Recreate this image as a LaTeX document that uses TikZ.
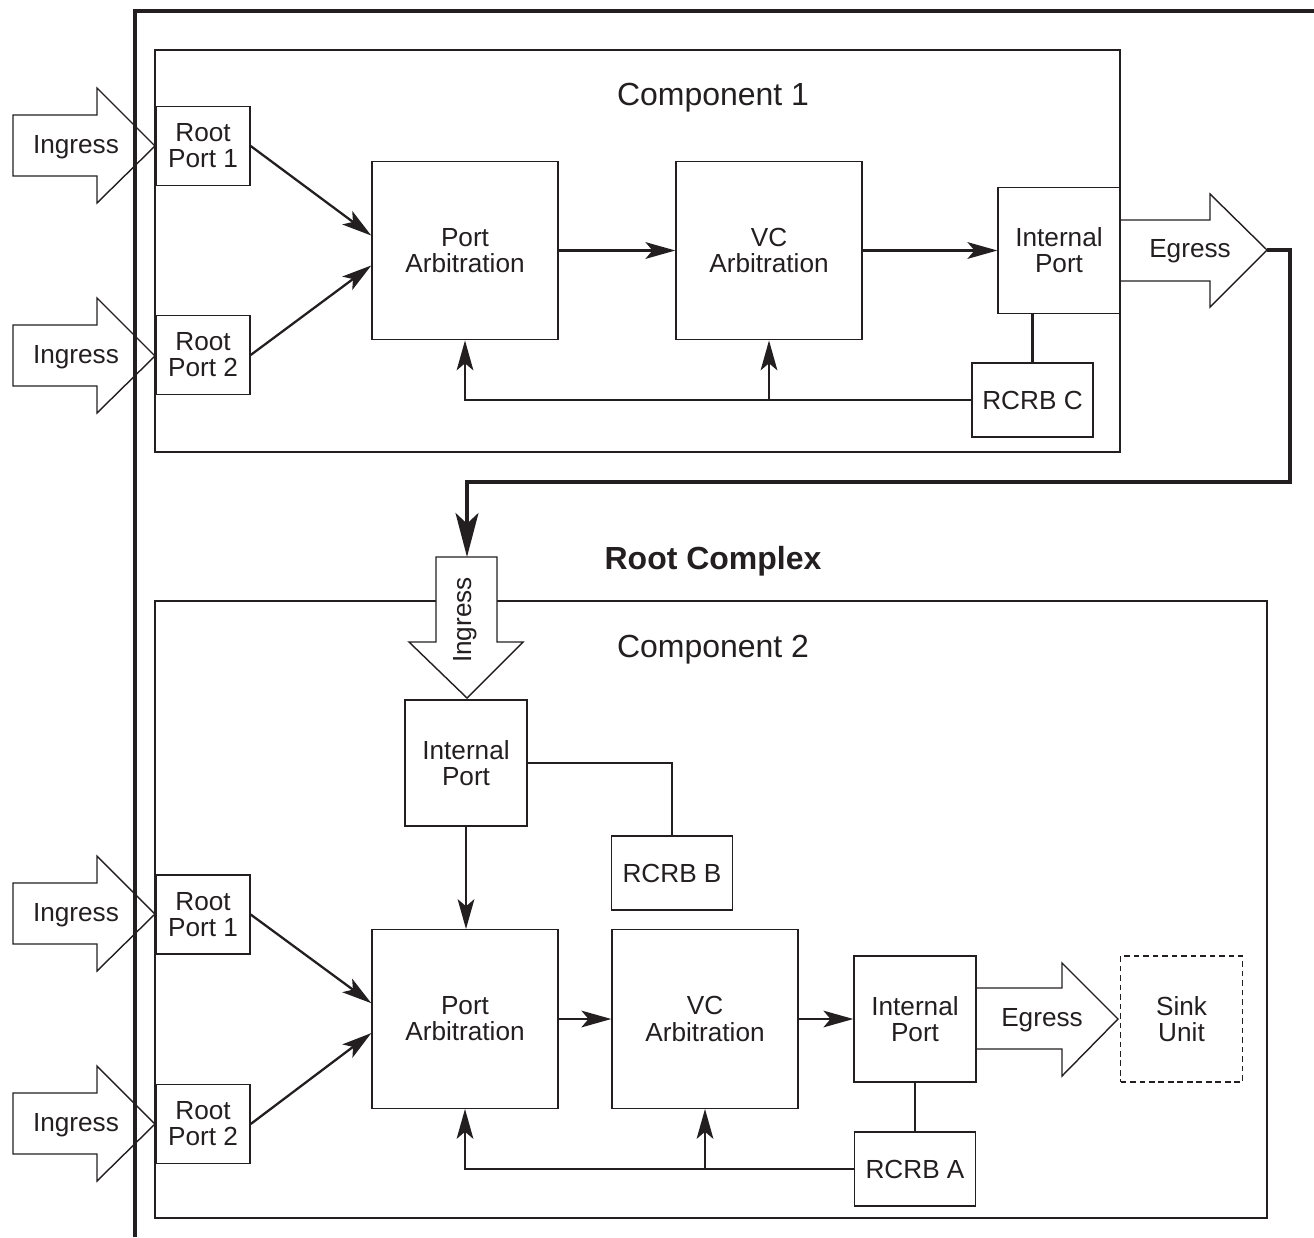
\documentclass[tikz,border=0pt]{standalone}
\usepackage{fontspec}
\setmainfont{Liberation Sans}
\usetikzlibrary{arrows.meta}
\definecolor{ink}{RGB}{35,31,32}

\begin{document}
\begin{tikzpicture}[x=0.02cm, y=-0.02cm, ink,
  lbl/.style={font=\fontsize{14.9pt}{14.9pt}\selectfont, align=center, inner sep=0pt},
  box/.style={lbl, draw=ink, line width=0.8pt},
  rootport/.style={box, minimum width=1.88cm, minimum height=1.58cm},
  arb/.style={box, minimum width=3.72cm, minimum height=3.57cm},
  intport/.style={box, minimum width=2.44cm, minimum height=2.52cm},
  rcrb/.style={box, minimum width=2.42cm, minimum height=1.48cm},
  title/.style={font=\fontsize{18.2pt}{20pt}\selectfont, inner sep=0pt, anchor=base},
  fat/.style={draw=ink, line width=0.8pt, line join=miter},
  flow/.style={draw=ink, line width=1.3pt, -{Stealth[length=17pt, width=9.5pt, inset=4pt]}},
  link/.style={draw=ink, line width=1.3pt},
  bus/.style={draw=ink, line width=2.3pt, -{Stealth[length=25pt, width=13pt, inset=6pt]}}]
  \useasboundingbox (0,0) rectangle (1314,1237);

  %% 1. Frame and components
  \draw[line width=1.9pt] (135,1237) -- (135,11) -- (1314,11);
  \draw[line width=0.8pt] (155,50) rectangle (1120,452);
  \draw[line width=0.8pt] (155,601) rectangle (1267,1218);
  \node[title] (comp1) at (713,106) {Component 1};
  \node[title] (comp2) at (713,657) {Component 2};
  \node[title, font=\fontsize{18.2pt}{20pt}\selectfont\bfseries] (rootcx) at (713,569) {Root Complex};

  %% 2. Component 1 blocks
  \node[rootport] (rp11) at (203,146) {Root\\Port 1};
  \node[rootport] (rp12) at (203,355) {Root\\Port 2};
  \node[arb] (pa1) at (465,250.5) {Port\\Arbitration};
  \node[arb] (vc1) at (769,250.5) {VC\\Arbitration};
  \node[intport] (ip1) at (1059,250.5) {Internal\\Port};
  \node[rcrb] (rc1) at (1032.5,400) {RCRB C};

  %% 3. Component 2 blocks
  \node[intport] (ip2a) at (466,763) {Internal\\Port};
  \node[rcrb] (rcB) at (672,873) {RCRB B};
  \node[rootport] (rp21) at (203,914.5) {Root\\Port 1};
  \node[rootport] (rp22) at (203,1124) {Root\\Port 2};
  \node[arb] (pa2) at (465,1019) {Port\\Arbitration};
  \node[arb] (vc2) at (705,1019) {VC\\Arbitration};
  \node[intport] (ip2b) at (915,1019) {Internal\\Port};
  \node[rcrb] (rcA) at (915,1169) {RCRB A};
  \node[intport, dash pattern=on 3.2pt off 2.2pt] (sink) at (1181.5,1019) {Sink\\Unit};

  %% 4. Ingress and egress arrows
  \draw[fat] (13,115) -- (97,115) -- (97,88) -- (155,146) -- (97,203) -- (97,176) -- (13,176) -- cycle;
  \node[lbl] (ing11) at (76,147) {Ingress};
  \draw[fat] (13,325) -- (97,325) -- (97,298) -- (155,356) -- (97,413) -- (97,386) -- (13,386) -- cycle;
  \node[lbl] (ing12) at (76,357) {Ingress};
  \draw[fat] (13,883) -- (97,883) -- (97,856) -- (155,914) -- (97,971) -- (97,944) -- (13,944) -- cycle;
  \node[lbl] (ing21) at (76,915) {Ingress};
  \draw[fat] (13,1093) -- (97,1093) -- (97,1066) -- (155,1124) -- (97,1181) -- (97,1154) -- (13,1154) -- cycle;
  \node[lbl] (ing22) at (76,1125) {Ingress};
  \draw[fat] (1120,220) -- (1210,220) -- (1210,194) -- (1267,250) -- (1210,307) -- (1210,281) -- (1120,281) -- cycle;
  \node[lbl] (eg1) at (1190,251) {Egress};
  \draw[fat] (976,988) -- (1062,988) -- (1062,963) -- (1118,1019) -- (1062,1076) -- (1062,1049) -- (976,1049) -- cycle;
  \node[lbl] (eg2) at (1042,1020) {Egress};
  \draw[fat, fill=white] (436,557) -- (497,557) -- (497,642) -- (523,642) -- (467,698) -- (409,642) -- (436,642) -- cycle;
  \node[lbl, rotate=90] (ingd) at (465,620) {Ingress};
  \coordinate (eg1tip) at (1267,250);
  \coordinate (ingdtop) at (467,557);

  %% 5. Connectors, component 1
  \draw[flow] (rp11.east) -- ([yshift=8.5pt]pa1.west);
  \draw[flow] (rp12.east) -- ([yshift=-8.5pt]pa1.west);
  \draw[flow] (pa1.east) -- (vc1.west);
  \draw[flow] (vc1.east) -- (ip1.west);
  \draw[link] (rc1.north |- ip1.south) -- (rc1.north);
  \draw[flow] (rc1.west) -| (pa1.south);
  \draw[flow] (vc1.south |- rc1.west) -- (vc1.south);

  %% 6. Connectors, component 2
  \draw[bus] (eg1tip) -- ++(23,0) -- ++(0,232) -| (ingdtop);
  \draw[flow] (ip2a.south) -- (ip2a.south |- pa2.north);
  \draw[link] (ip2a.east) -| (rcB.north);
  \draw[flow] (rp21.east) -- ([yshift=9pt]pa2.west);
  \draw[flow] (rp22.east) -- ([yshift=-8pt]pa2.west);
  \draw[flow] (pa2.east) -- (vc2.west);
  \draw[flow] (vc2.east) -- (ip2b.west);
  \draw[link] (ip2b.south) -- (rcA.north);
  \draw[flow] (rcA.west) -| (pa2.south);
  \draw[flow] (vc2.south |- rcA.west) -- (vc2.south);
\end{tikzpicture}
\end{document}
